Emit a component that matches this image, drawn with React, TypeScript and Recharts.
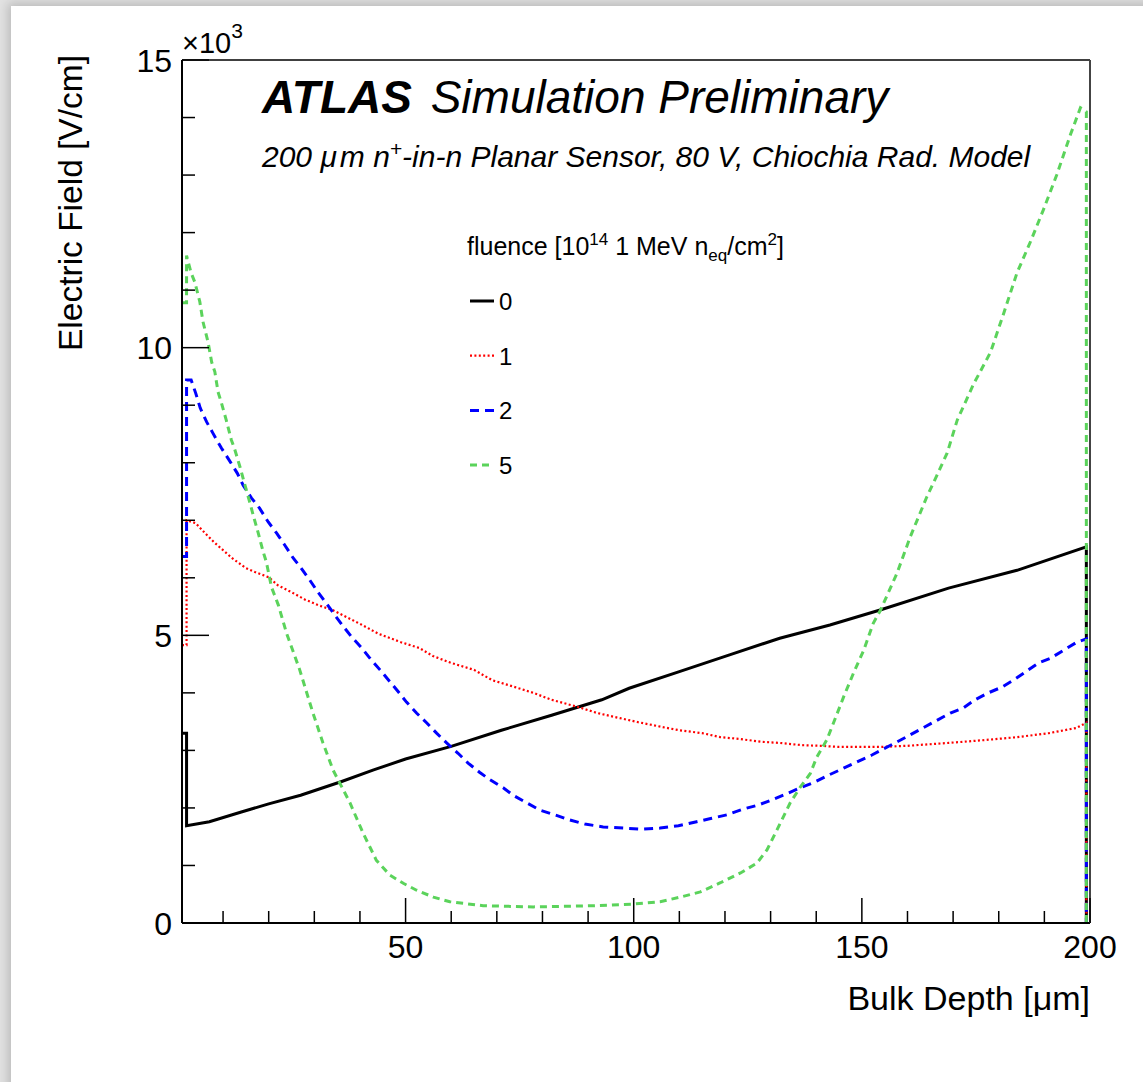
import React from 'react';
import { LineChart, Line, XAxis, YAxis, Legend } from 'recharts';

const FONT = '"Liberation Sans", Arial, Helvetica, sans-serif';

// fluence 0
const depth0 = [1, 2, 2, 7, 14, 20, 27, 36, 43, 50, 60, 71, 82, 93, 99, 110, 121, 132, 143, 154, 169, 184, 199.2, 199.2];
const field0 = [3300, 3300, 1690, 1760, 1930, 2070, 2220, 2460, 2660, 2850, 3070, 3350, 3610, 3880, 4080, 4370, 4660, 4950, 5180, 5440, 5820, 6130, 6540, 0];

// fluence 1
const depth1 = [1, 2, 2, 4, 6, 8, 10, 12, 15, 17, 20, 22, 25, 28, 31, 34, 37, 40, 44, 49, 53, 56, 60, 65, 69, 74, 78, 82, 88, 92, 97, 101, 106, 110, 115, 119, 123, 128, 132, 137, 141, 145, 150, 154, 160, 169, 177, 184, 191, 197, 199.2, 199.2];
const field1 = [4830, 4830, 7000, 6950, 6780, 6620, 6480, 6340, 6170, 6100, 6010, 5870, 5750, 5620, 5520, 5440, 5320, 5200, 5030, 4880, 4780, 4640, 4520, 4400, 4220, 4100, 4000, 3880, 3750, 3650, 3560, 3490, 3410, 3350, 3300, 3230, 3200, 3150, 3130, 3090, 3080, 3060, 3060, 3060, 3080, 3130, 3180, 3230, 3300, 3390, 3480, 0];

// fluence 2
const depth2 = [1, 2, 2, 3, 4, 5, 6.4, 7.8, 9.6, 11.3, 13.1, 14.4, 16.2, 18, 19.9, 21.7, 23.5, 25.4, 27, 29, 30.8, 32.6, 34.5, 36.3, 38.2, 40.4, 42.2, 44.4, 46.6, 48.4, 50.2, 52.4, 54.6, 56.8, 59, 61.5, 63.7, 66.2, 68.5, 71.4, 73.6, 76.5, 79.5, 82.7, 86, 89.3, 93.3, 97.7, 101.8, 105.8, 109.8, 113.8, 117.1, 120.4, 124, 127.3, 130.6, 133.9, 136.8, 139.7, 142.7, 146, 148.9, 152.2, 158.5, 169.4, 172.3, 174.8, 177.7, 180.7, 183.2, 185.8, 188.7, 191.3, 194.2, 197.1, 199.2, 199.2];
const field2 = [6370, 6370, 9440, 9440, 9210, 8950, 8710, 8510, 8260, 8050, 7820, 7610, 7390, 7210, 6970, 6780, 6570, 6340, 6180, 5960, 5750, 5560, 5350, 5160, 4970, 4780, 4600, 4400, 4190, 4020, 3840, 3650, 3480, 3300, 3130, 2950, 2780, 2620, 2490, 2350, 2220, 2090, 1960, 1880, 1790, 1720, 1670, 1650, 1630, 1650, 1690, 1760, 1820, 1880, 1980, 2050, 2150, 2260, 2360, 2450, 2570, 2690, 2800, 2920, 3180, 3650, 3740, 3880, 4000, 4100, 4220, 4360, 4520, 4600, 4740, 4880, 4940, 0];

// fluence 5
const depth5 = [1, 2, 2, 3, 3.8, 4.9, 5.6, 6.7, 7.5, 8.2, 8.9, 9.6, 10.7, 11.8, 12.6, 13.7, 14.8, 15.9, 16.6, 17.7, 18.8, 19.5, 20.6, 22.1, 23.9, 26.8, 29.7, 31.9, 34.1, 35.6, 37.8, 40.7, 43.6, 46.6, 49.5, 52.4, 56.1, 59.7, 67, 78, 91, 100, 105.8, 110.2, 114.6, 119, 123.4, 127, 129.2, 131.4, 134.3, 136.5, 138.7, 140.1, 142.3, 143.8, 146, 148.2, 150.4, 152.5, 154.1, 157.7, 160.6, 164.2, 166.5, 168.7, 170.9, 174.5, 178.2, 181.1, 184, 187, 189.8, 192.7, 195.7, 197.9, 199.2, 199.2];
const field5 = [10780, 10780, 11600, 11300, 11140, 10800, 10450, 10100, 9750, 9580, 9230, 9050, 8740, 8400, 8220, 7930, 7610, 7300, 7090, 6780, 6450, 6270, 5840, 5530, 5040, 4400, 3650, 3130, 2660, 2430, 2090, 1560, 1090, 830, 690, 570, 450, 370, 300, 280, 300, 330, 370, 450, 540, 700, 870, 1040, 1270, 1620, 2090, 2360, 2600, 2880, 3180, 3480, 3930, 4350, 4740, 5210, 5440, 6080, 6710, 7400, 7790, 8170, 8740, 9370, 9920, 10600, 11300, 11850, 12400, 13000, 13700, 14170, 14100, 0];

const xTicks = [10, 20, 30, 40, 50, 60, 70, 80, 90, 100, 110, 120, 130, 140, 150, 160, 170, 180, 190, 200];
const xMajorTicks = [50, 100, 150, 200];
const yTicks = [0, 1000, 2000, 3000, 4000, 5000, 6000, 7000, 8000, 9000, 10000, 11000, 12000, 13000, 14000, 15000];
const yMajorTicks = [0, 5000, 10000, 15000];
const yMajorLabels = ['0', '5', '10', '15'];

const toPoints = (xs: number[], ys: number[]) => xs.map((x, i) => ({ x, y: ys[i] }));

const series = [
  { name: '0', data: toPoints(depth0, field0), color: '#000000', dash: undefined as string | undefined, width: 3 },
  { name: '1', data: toPoints(depth1, field1), color: '#ff0000', dash: '2 2.4', width: 2.2 },
  { name: '2', data: toPoints(depth2, field2), color: '#0000ff', dash: '9 6', width: 3 },
  { name: '5', data: toPoints(depth5, field5), color: '#5bd35b', dash: '7 5', width: 3 },
];

const XTick = (props: any) => {
  const { x, y, payload } = props;
  const major = xMajorTicks.includes(payload.value);
  return (
    <g>
      <line x1={x} y1={y} x2={x} y2={y - (major ? 25 : 12)} stroke="#000" strokeWidth={1.5} />
      {major && (
        <text x={x} y={y + 35} textAnchor="middle" fontSize={32} fontFamily={FONT} fill="#000">
          {payload.value}
        </text>
      )}
    </g>
  );
};

const YTick = (props: any) => {
  const { x, y, payload } = props;
  const idx = yMajorTicks.indexOf(payload.value);
  const major = idx >= 0;
  return (
    <g>
      <line x1={x} y1={y} x2={x + (major ? 27 : 13)} y2={y} stroke="#000" strokeWidth={1.5} />
      {major && (
        <text x={x - 10} y={y + 11.5} textAnchor="end" fontSize={32} fontFamily={FONT} fill="#000">
          {yMajorLabels[idx]}
        </text>
      )}
    </g>
  );
};

const LegendBox = (props: any) => {
  const payload = props.payload || [];
  return (
    <svg width={340} height={270} style={{ overflow: 'visible' }}>
      <text x={7} y={35} fontSize={25} fontFamily={FONT} fill="#000">
        fluence [10
        <tspan dy={-10} fontSize={17}>14</tspan>
        <tspan dy={10} fontSize={25}> 1 MeV n</tspan>
        <tspan dy={6} fontSize={17}>eq</tspan>
        <tspan dy={-6} fontSize={25}>/cm</tspan>
        <tspan dy={-10} fontSize={17}>2</tspan>
        <tspan dy={10} fontSize={25}>]</tspan>
      </text>
      {payload.map((entry: any, i: number) => {
        const s = series.find((d) => d.name === entry.value) || series[i];
        const ly = 81 + i * 54.7;
        return (
          <g key={entry.value}>
            <line x1={10} y1={ly} x2={34} y2={ly} stroke={s.color} strokeWidth={s.width} strokeDasharray={s.dash} />
            <text x={39} y={ly + 9} fontSize={24} fontFamily={FONT} fill="#000">{entry.value}</text>
          </g>
        );
      })}
    </svg>
  );
};

export default function App() {
  return (
    <div style={{ position: 'absolute', left: 0, top: 0, width: 1143, height: 1082, background: '#e2e2e2', overflow: 'hidden' }}>
      <div style={{ position: 'absolute', left: 11, top: 6, width: 1170, height: 1110, background: '#fff', boxShadow: '0 0 10px 3px rgba(0,0,0,0.18)' }} />
      <div style={{ position: 'absolute', left: 0, top: 0 }}>
        <LineChart width={1143} height={1082} margin={{ top: 59, right: 52, bottom: 158, left: 181 }}>
          <XAxis
            type="number"
            dataKey="x"
            domain={[1, 200]}
            allowDataOverflow
            ticks={xTicks}
            interval={0}
            height={1}
            tickSize={0}
            tickMargin={0}
            tickLine={false}
            tick={<XTick />}
            axisLine={{ stroke: '#000', strokeWidth: 2 }}
          />
          <XAxis xAxisId="top" orientation="top" type="number" domain={[1, 200]} height={1} tick={false} tickLine={false} axisLine={{ stroke: '#000', strokeWidth: 1.5 }} />
          <YAxis
            type="number"
            domain={[0, 15000]}
            allowDataOverflow
            ticks={yTicks}
            interval={0}
            width={1}
            tickSize={0}
            tickMargin={0}
            tickLine={false}
            tick={<YTick />}
            axisLine={{ stroke: '#000', strokeWidth: 2 }}
          />
          <YAxis yAxisId="right" orientation="right" type="number" domain={[0, 15000]} width={1} tick={false} tickLine={false} axisLine={{ stroke: '#444', strokeWidth: 2 }} />
          <Legend
            layout="vertical"
            align="center"
            verticalAlign="middle"
            content={<LegendBox />}
            wrapperStyle={{ position: 'absolute', left: 460, top: 220, width: 340, height: 270 }}
          />
          {series.map((s) => (
            <Line
              key={s.name}
              name={s.name}
              data={s.data}
              dataKey="y"
              type="linear"
              stroke={s.color}
              strokeWidth={s.width}
              strokeDasharray={s.dash}
              dot={false}
              activeDot={false}
              isAnimationActive={false}
            />
          ))}
        </LineChart>
      </div>
      <svg width={1143} height={1082} style={{ position: 'absolute', left: 0, top: 0, pointerEvents: 'none' }}>
        <text x={182} y={53} fontSize={29} fontFamily={FONT} fill="#000">
          ×10<tspan dy={-15} fontSize={21}>3</tspan>
        </text>
        <text x={262} y={113} fontSize={46} fontFamily={FONT} fontStyle="italic" fill="#000">
          <tspan fontWeight="bold">ATLAS</tspan>
          <tspan dx={6}> Simulation Preliminary</tspan>
        </text>
        <text x={262} y={167} fontSize={30} fontFamily={FONT} fontStyle="italic" fill="#000">
          200 μ<tspan dx={3}>m n</tspan>
          <tspan dy={-11} fontSize={21}>+</tspan>
          <tspan dy={11} fontSize={30}>-in-n Planar Sensor, 80 V, Chiochia Rad. Model</tspan>
        </text>
        <text x={82} y={55} transform="rotate(-90 82 55)" textAnchor="end" fontSize={33.5} fontFamily={FONT} fill="#000">
          Electric Field [V/cm]
        </text>
        <text x={1090} y={1010} textAnchor="end" fontSize={34} fontFamily={FONT} fill="#000">
          Bulk Depth [μm]
        </text>
      </svg>
    </div>
  );
}
